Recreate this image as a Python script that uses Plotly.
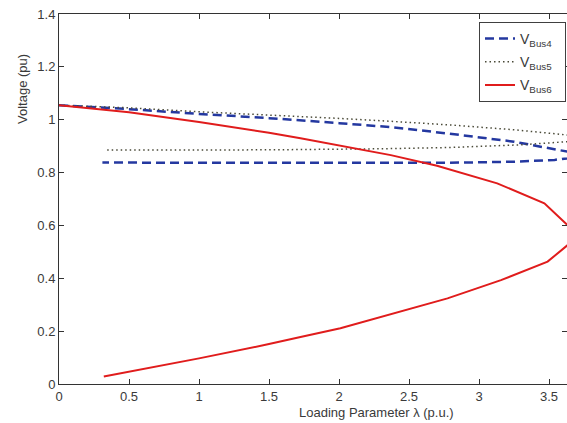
import plotly.graph_objects as go

# Bus 6 (red, solid) - upper branch then lower branch through the nose
bus6_lambda = [0.0, 0.5, 1.0, 1.5, 1.725, 2.0, 2.37, 2.7, 3.13, 3.467, 3.634, 3.66,
               3.634, 3.49, 3.157, 2.775, 2.44, 2.01, 1.725, 1.5, 1.0, 0.32]
bus6_v = [1.055, 1.028, 0.991, 0.951, 0.930, 0.903, 0.866, 0.826, 0.759, 0.684, 0.600, 0.565,
          0.526, 0.463, 0.393, 0.324, 0.274, 0.211, 0.178, 0.151, 0.097, 0.028]

# Bus 4 (blue, dashed)
bus4_lambda = [0.0, 0.5, 1.0, 1.5, 2.0, 2.37, 2.775, 3.25, 3.44, 3.634, 3.66,
               3.634, 3.54, 3.25, 2.775, 2.0, 1.0, 0.31]
bus4_v = [1.055, 1.040, 1.022, 1.006, 0.987, 0.972, 0.948, 0.917, 0.898, 0.879, 0.866,
          0.854, 0.848, 0.841, 0.837, 0.836, 0.837, 0.838]

# Bus 5 (black, dotted)
bus5_lambda = [0.0, 0.5, 1.0, 1.5, 2.0, 2.37, 2.8, 3.25, 3.634, 3.67,
               3.634, 3.3, 2.8, 2.3, 1.5, 0.336]
bus5_v = [1.055, 1.045, 1.030, 1.018, 1.005, 0.994, 0.980, 0.962, 0.942, 0.930,
          0.917, 0.905, 0.895, 0.890, 0.886, 0.885]

x_ticks = [0, 0.5, 1, 1.5, 2, 2.5, 3, 3.5]
x_tick_labels = ["0", "0.5", "1", "1.5", "2", "2.5", "3", "3.5"]
y_ticks = [0, 0.2, 0.4, 0.6, 0.8, 1.0, 1.2, 1.4]
y_tick_labels = ["0", "0.2", "0.4", "0.6", "0.8", "1", "1.2", "1.4"]

FONT = "Liberation Sans, Arial, sans-serif"
TXT = "#3a3a3a"
NB = "\u00a0"

fig = go.Figure()
fig.add_trace(go.Scatter(x=bus4_lambda, y=bus4_v, mode="lines",
                         name="V<sub>Bus4</sub>" + NB * 2, legendgroup="g4",
                         line=dict(color="#2438a0", width=2.5, dash="9px,5px")))
fig.add_trace(go.Scatter(x=bus5_lambda, y=bus5_v, mode="lines",
                         name="V<sub>Bus5</sub>" + NB * 2, legendgroup="g5",
                         line=dict(color="#4a4a38", width=1.5, dash="1.5px,3px")))
fig.add_trace(go.Scatter(x=bus6_lambda, y=bus6_v, mode="lines",
                         name="V<sub>Bus6</sub>" + NB * 2, legendgroup="g6",
                         line=dict(color="#e01c1c", width=2)))

L, T, W, H = 59, 14, 567, 423
B = 39
plot_w = W - L
plot_h = H - T - B

fig.update_layout(
    width=W, height=H,
    margin=dict(l=L, r=0, t=T, b=B, pad=0),
    paper_bgcolor="white", plot_bgcolor="white",
    font=dict(family=FONT, size=13, color=TXT),
    showlegend=True,
    legend=dict(x=1 - 1 / plot_w, xanchor="right", y=1 - 8 / plot_h, yanchor="top",
                bgcolor="white", bordercolor="#404040", borderwidth=1,
                font=dict(family=FONT, size=14, color=TXT),
                tracegroupgap=2, itemwidth=30),
)
fig.update_xaxes(range=[0, plot_w / 140.0], tickvals=x_ticks, ticktext=x_tick_labels,
                 ticks="inside", ticklen=5, tickcolor="#333333",
                 showline=True, linecolor="#333333", linewidth=1, mirror="ticks",
                 showgrid=False, zeroline=False, tickfont=dict(size=13, color=TXT))
fig.update_yaxes(range=[0, 1.4], tickvals=y_ticks, ticktext=y_tick_labels,
                 ticks="inside", ticklen=5, tickcolor="#333333",
                 showline=True, linecolor="#333333", linewidth=1, mirror="ticks",
                 showgrid=False, zeroline=False, tickfont=dict(size=13, color=TXT))

fig.add_annotation(text="Loading Parameter λ (p.u.)", xref="paper", yref="paper",
                   x=(376.5 - L) / plot_w, y=(H - B - 412) / plot_h,
                   xanchor="center", yanchor="middle", showarrow=False,
                   font=dict(family=FONT, size=13, color=TXT))
fig.add_annotation(text="Voltage (pu)", xref="paper", yref="paper",
                   x=(22 - L) / plot_w, y=(H - B - 89) / plot_h, textangle=-90,
                   xanchor="center", yanchor="middle", showarrow=False,
                   font=dict(family=FONT, size=13, color=TXT))

fig.write_html("out.html", config={"displayModeBar": False},
               post_script="document.body.style.margin='0';document.body.style.overflow='hidden';")
